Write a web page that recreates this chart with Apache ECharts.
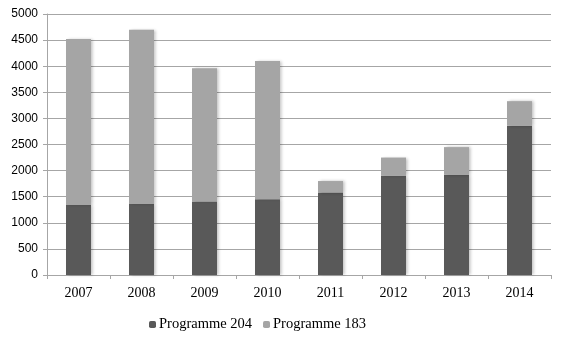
<!DOCTYPE html>
<html><head><meta charset="utf-8">
<script src="https://cdn.jsdelivr.net/npm/echarts@6/dist/echarts.min.js"></script>
<style>html,body{margin:0;padding:0;background:#fff}#c{width:566px;height:343px}</style>
</head><body><div id="c"></div>
<script>
var categories = ['2007','2008','2009','2010','2011','2012','2013','2014'];
var prog204 = [1340, 1360, 1410, 1450, 1580, 1900, 1920, 2860];
var prog183 = [3180, 3340, 2550, 2650, 220, 350, 530, 470];
var yTicks = [0, 500, 1000, 1500, 2000, 2500, 3000, 3500, 4000, 4500, 5000];

var chart = echarts.init(document.getElementById('c'));
var shadow = {shadowColor:'rgba(0,0,0,0.25)', shadowBlur:3, shadowOffsetX:1.5, shadowOffsetY:0};
chart.setOption({
  animation: false,
  grid: {left: 47, right: 15, top: 14, bottom: 68},
  legend: {
    top: 312, left: 144, itemWidth: 7, itemHeight: 7, itemGap: 11,
    textStyle: {fontFamily: 'Liberation Serif', fontSize: 14.5, color: '#000', padding: [0,0,0,-2]},
    data: ['Programme 204', 'Programme 183']
  },
  xAxis: {
    type: 'category', data: categories,
    axisLine: {lineStyle: {color: '#a6a6a6'}},
    axisTick: {show: true, lineStyle: {color: '#a6a6a6'}, length: 4},
    axisLabel: {fontFamily: 'Liberation Serif', fontSize: 14, color: '#000', margin: 11}
  },
  yAxis: {
    type: 'value', min: yTicks[0], max: yTicks[yTicks.length-1], interval: 500,
    axisLine: {show: true, lineStyle: {color: '#a6a6a6'}},
    axisTick: {show: true, length: 4, inside: false, lineStyle: {color: '#a6a6a6'}},
    splitLine: {lineStyle: {color: '#a6a6a6'}},
    axisLabel: {fontFamily: 'Liberation Sans', fontSize: 12, color: '#000', margin: 9,
                formatter: function (v) { return String(v); }}
  },
  series: [
    {name: 'Programme 204', type: 'bar', stack: 't', data: prog204, barWidth: 25,
     itemStyle: Object.assign({color: '#595959'}, shadow)},
    {name: 'Programme 183', type: 'bar', stack: 't', data: prog183, barWidth: 25,
     itemStyle: Object.assign({color: '#a5a5a5'}, shadow)}
  ]
});
</script></body></html>
